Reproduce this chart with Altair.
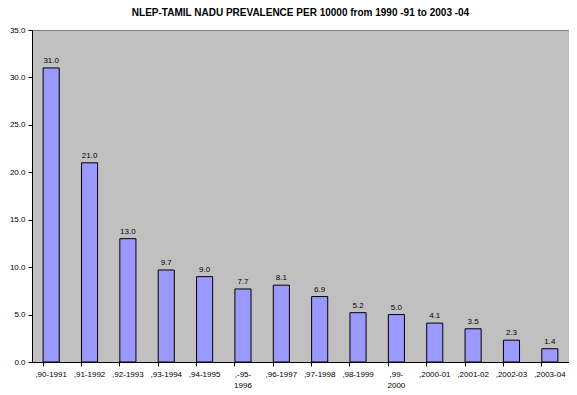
import altair as alt
import pandas as pd

categories = [",90-1991", ",91-1992", ",92-1993", ",93-1994", ",94-1995",
              ",-95-\n1996", ",96-1997", ",97-1998", ",98-1999", ",99-\n2000",
              ",2000-01", ",2001-02", ",2002-03", ",2003-04"]
values = [31.0, 21.0, 13.0, 9.7, 9.0, 7.7, 8.1, 6.9, 5.2, 5.0, 4.1, 3.5, 2.3, 1.4]

df = pd.DataFrame({"period": categories, "value": values})

FONT = "Liberation Sans"

x = alt.X("period:N", sort=None, title=None,
          scale=alt.Scale(paddingInner=0.58, paddingOuter=0.29),
          axis=alt.Axis(labelAngle=0, labelExpr="split(datum.label, '\\n')",
                        labelFontSize=8, labelFont=FONT, labelColor="black",
                        tickColor="black", domainColor="black", tickSize=4,
                        labelPadding=4, bandPosition=0, labelBound=False,
                        labelLineHeight=11))
y = alt.Y("value:Q", title=None,
          scale=alt.Scale(domain=[0, 35], nice=False),
          axis=alt.Axis(values=[0, 5, 10, 15, 20, 25, 30, 35], format=".1f",
                        labelFontSize=8, labelFont=FONT, labelColor="black",
                        tickColor="black", domainColor="black", tickSize=4,
                        grid=False, labelPadding=3))

bars = alt.Chart(df).mark_bar(color="#9999FF", stroke="black", strokeWidth=1).encode(x=x, y=y)
labels = alt.Chart(df).mark_text(dy=-7, fontSize=8, font=FONT, color="black").encode(
    x=alt.X("period:N", sort=None), y="value:Q", text=alt.Text("value:Q", format=".1f"))

chart = (bars + labels).properties(
    width=537, height=332,
    title=alt.TitleParams("NLEP-TAMIL NADU PREVALENCE PER 10000 from 1990 -91 to 2003 -04",
                          font=FONT, fontSize=10, fontWeight="bold", anchor="middle",
                          offset=8, color="black"),
    autosize=alt.AutoSizeParams(type="none"),
    padding={"left": 24, "top": 22, "right": 0, "bottom": 31},
).configure(background="white").configure_view(fill="#C0C0C0", stroke="#808080", strokeWidth=1)

chart.save("out.html", embed_options={"renderer": "svg", "actions": False})
